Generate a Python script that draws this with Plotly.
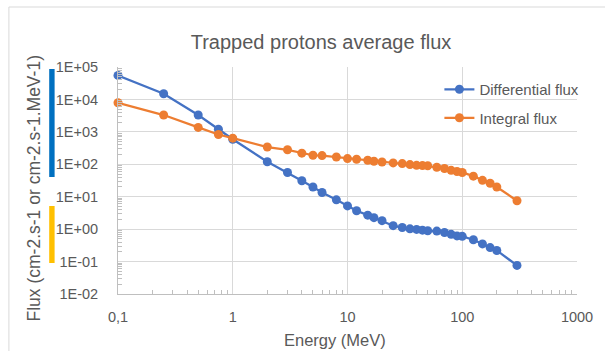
import plotly.graph_objects as go

# ---- data ----
energy_diff = [0.1, 0.25, 0.5, 0.75, 1, 2, 3, 4, 5, 6, 8, 10, 12, 15, 17, 20, 25, 30, 35, 40,
               45, 50, 60, 70, 80, 90, 100, 125, 150, 175, 200, 300]
flux_diff = [5.5e4, 1.5e4, 3.3e3, 1.2e3, 5.9e2, 1.2e2, 56, 31, 20, 13.5, 8, 5.2, 3.7, 2.7, 2.26,
             1.83, 1.28, 1.12, 1.02, 0.98, 0.93, 0.89, 0.87, 0.79, 0.69, 0.62, 0.6, 0.47, 0.35,
             0.27, 0.22, 0.076]
energy_int = energy_diff
flux_int = [7.9e3, 3.3e3, 1.37e3, 8.3e2, 6.4e2, 3.4e2, 2.8e2, 2.2e2, 1.9e2, 1.85e2, 1.68e2, 1.5e2,
            1.43e2, 1.33e2, 1.24e2, 1.18e2, 1.1e2, 1.05e2, 98, 93, 91, 90, 81, 74, 65, 60, 56, 43,
            32, 26, 20, 7.5]

x_tickvals = [0.1, 1, 10, 100, 1000]
x_ticktext = ["0,1", "1", "10", "100", "1000"]
y_tickvals = [1e-2, 1e-1, 1e0, 1e1, 1e2, 1e3, 1e4, 1e5]
y_ticktext = ["1E-02", "1E-01", "1E+00", "1E+01", "1E+02", "1E+03", "1E+04", "1E+05"]

# ---- layout geometry ----
W, H = 605, 351
L, R, T, B = 118, 20, 67, 57
pw, ph = W - L - R, H - T - B

def px_x(x):
    return (x - L) / pw

def px_y(y):
    return 1 - (y - T) / ph

FONT = "Liberation Sans"
TXT = "#595959"
GRID = "#d9d9d9"
BLUE = "#4472C4"
ORANGE = "#ED7D31"

def minor_vals(lo, hi):
    vals = []
    for e in range(lo, hi):
        for m in range(2, 10):
            vals.append(m * 10 ** e)
    return vals

fig = go.Figure()
fig.add_trace(go.Scatter(x=energy_diff, y=flux_diff, mode="lines+markers",
                         name="Differential flux", legendgroup="a", cliponaxis=False,
                         line=dict(color=BLUE, width=2.25),
                         marker=dict(color=BLUE, size=9)))
fig.add_trace(go.Scatter(x=energy_int, y=flux_int, mode="lines+markers",
                         name="Integral flux", legendgroup="b", cliponaxis=False,
                         line=dict(color=ORANGE, width=2.25),
                         marker=dict(color=ORANGE, size=9)))

fig.update_layout(
    width=W, height=H,
    margin=dict(l=L, r=R, t=T, b=B),
    paper_bgcolor="white", plot_bgcolor="white",
    font=dict(family=FONT, color=TXT, size=13),
    title=dict(text="Trapped protons average flux", x=321 / W, y=1 - 42 / H,
               xanchor="center", yanchor="middle",
               font=dict(family=FONT, size=20, color=TXT)),
    showlegend=True,
    legend=dict(x=px_x(445), y=px_y(73), xanchor="left", yanchor="top",
                bgcolor="rgba(0,0,0,0)", traceorder="grouped", tracegroupgap=6,
                font=dict(family=FONT, size=15, color=TXT)),
)

fig.update_xaxes(type="log", range=[-1, 3], tickvals=x_tickvals, ticktext=x_ticktext,
                 showgrid=True, gridcolor=GRID, gridwidth=1,
                 showline=True, linecolor="#bfbfbf", linewidth=1, mirror=False,
                 ticks="", ticklabelstandoff=10, zeroline=False,
                 tickfont=dict(family=FONT, size=14.5, color=TXT),
                 minor=dict(tickvals=minor_vals(-1, 3), ticks="inside", ticklen=4,
                            tickcolor="#bfbfbf", showgrid=False))
fig.update_yaxes(type="log", range=[-2, 5], tickvals=y_tickvals, ticktext=y_ticktext,
                 showgrid=True, gridcolor=GRID, gridwidth=1,
                 showline=True, linecolor="#bfbfbf", linewidth=1,
                 ticks="", ticklabelstandoff=16, zeroline=False,
                 tickfont=dict(family=FONT, size=14.5, color=TXT),
                 minor=dict(tickvals=minor_vals(-2, 5), ticks="inside", ticklen=4,
                            tickcolor="#bfbfbf", showgrid=False))

# axis titles as annotations
fig.add_annotation(text="Flux (cm-2.s-1 or cm-2.s-1.MeV-1)", xref="paper", yref="paper",
                   x=px_x(33), y=px_y(188), textangle=-90, showarrow=False,
                   xanchor="center", yanchor="middle",
                   font=dict(family=FONT, size=17.5, color=TXT))
fig.add_annotation(text="Energy (MeV)", xref="paper", yref="paper",
                   x=px_x(339), y=px_y(340), showarrow=False,
                   xanchor="center", yanchor="middle",
                   font=dict(family=FONT, size=16.5, color=TXT))

# coloured marker bars next to y axis
fig.add_shape(type="rect", xref="paper", yref="paper",
              x0=px_x(48), x1=px_x(53.5), y0=px_y(69), y1=px_y(177),
              fillcolor="#0070C0", line=dict(width=0), layer="above")
fig.add_shape(type="rect", xref="paper", yref="paper",
              x0=px_x(48), x1=px_x(53.5), y0=px_y(206), y1=px_y(263),
              fillcolor="#FFC000", line=dict(width=0), layer="above")

# chart-area border
fig.add_shape(type="rect", xref="paper", yref="paper",
              x0=px_x(7), x1=px_x(640), y0=px_y(400), y1=px_y(7),
              fillcolor="rgba(0,0,0,0)", line=dict(color="#d9d9d9", width=1), layer="below")

fig.write_html("out.html")
